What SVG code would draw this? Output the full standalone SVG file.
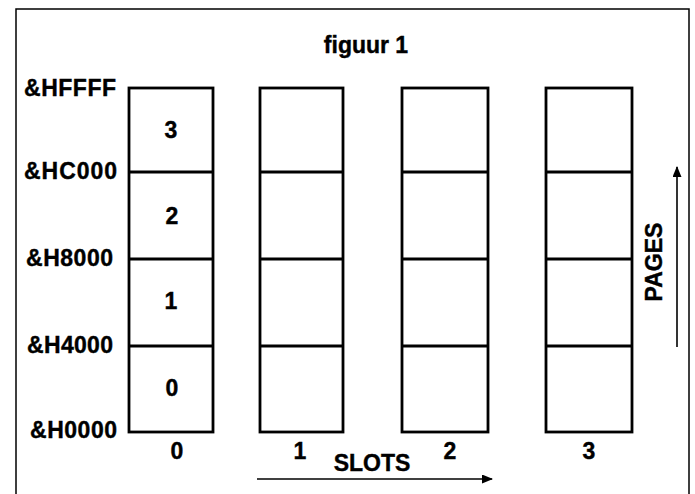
<svg xmlns="http://www.w3.org/2000/svg" width="695" height="494" viewBox="0 0 695 494">
<style>
.t{font-family:"Liberation Sans",Arial,sans-serif;font-weight:bold;font-size:23px;fill:#000;stroke:#000;stroke-width:0.4}
.m{text-anchor:middle}
.box{fill:#fff;stroke:#000;stroke-width:2.8}
.div{stroke:#000;stroke-width:2.8}
.frame{fill:none;stroke:#000;stroke-width:1.5}
.arr{stroke:#000;stroke-width:1.6;fill:none}
</style>
<defs>
<marker id="ah" markerWidth="11" markerHeight="9" refX="10" refY="4.5" orient="auto" markerUnits="userSpaceOnUse">
<path d="M0,0 L11,4.5 L0,9 Z" fill="#000"/>
</marker>
</defs>
<rect width="695" height="494" fill="#fff"/>
<path class="frame" d="M16,494 V9 H689 V494"/>
<text class="t m" x="366" y="53">figuur 1</text>
<g id="addresses">
<text class="t" x="24" y="96" textLength="92" lengthAdjust="spacing">&amp;HFFFF</text>
<text class="t" x="24" y="179" textLength="93" lengthAdjust="spacing">&amp;HC000</text>
<text class="t" x="26" y="266" textLength="87" lengthAdjust="spacing">&amp;H8000</text>
<text class="t" x="27" y="353" textLength="86" lengthAdjust="spacing">&amp;H4000</text>
<text class="t" x="30" y="438" textLength="87" lengthAdjust="spacing">&amp;H0000</text>
</g>
<g id="slot0">
<rect class="box" x="129" y="88" width="84" height="344"/>
<line class="div" x1="129" y1="172" x2="213" y2="172"/>
<line class="div" x1="129" y1="259" x2="213" y2="259"/>
<line class="div" x1="129" y1="346" x2="213" y2="346"/>
<text class="t m" x="171" y="138">3</text>
<text class="t m" x="172" y="224">2</text>
<text class="t m" x="171" y="309">1</text>
<text class="t m" x="172" y="396">0</text>
<text class="t m" x="177" y="459">0</text>
</g>
<g id="slot1">
<rect class="box" x="260" y="88" width="83" height="344"/>
<line class="div" x1="260" y1="172" x2="343" y2="172"/>
<line class="div" x1="260" y1="259" x2="343" y2="259"/>
<line class="div" x1="260" y1="346" x2="343" y2="346"/>
<text class="t m" x="300" y="459">1</text>
</g>
<g id="slot2">
<rect class="box" x="402" y="88" width="86" height="344"/>
<line class="div" x1="402" y1="172" x2="488" y2="172"/>
<line class="div" x1="402" y1="259" x2="488" y2="259"/>
<line class="div" x1="402" y1="346" x2="488" y2="346"/>
<text class="t m" x="450" y="459">2</text>
</g>
<g id="slot3">
<rect class="box" x="546" y="88" width="86" height="344"/>
<line class="div" x1="546" y1="172" x2="632" y2="172"/>
<line class="div" x1="546" y1="259" x2="632" y2="259"/>
<line class="div" x1="546" y1="346" x2="632" y2="346"/>
<text class="t m" x="589" y="459">3</text>
</g>
<g id="connectors">
<line class="arr" x1="257" y1="479" x2="492" y2="479" marker-end="url(#ah)"/>
<line class="arr" x1="677" y1="347" x2="677" y2="167" marker-end="url(#ah)"/>
</g>
<text class="t m" x="372" y="471">SLOTS</text>
<text class="t m" transform="translate(662,262) rotate(-90)">PAGES</text>
</svg>
